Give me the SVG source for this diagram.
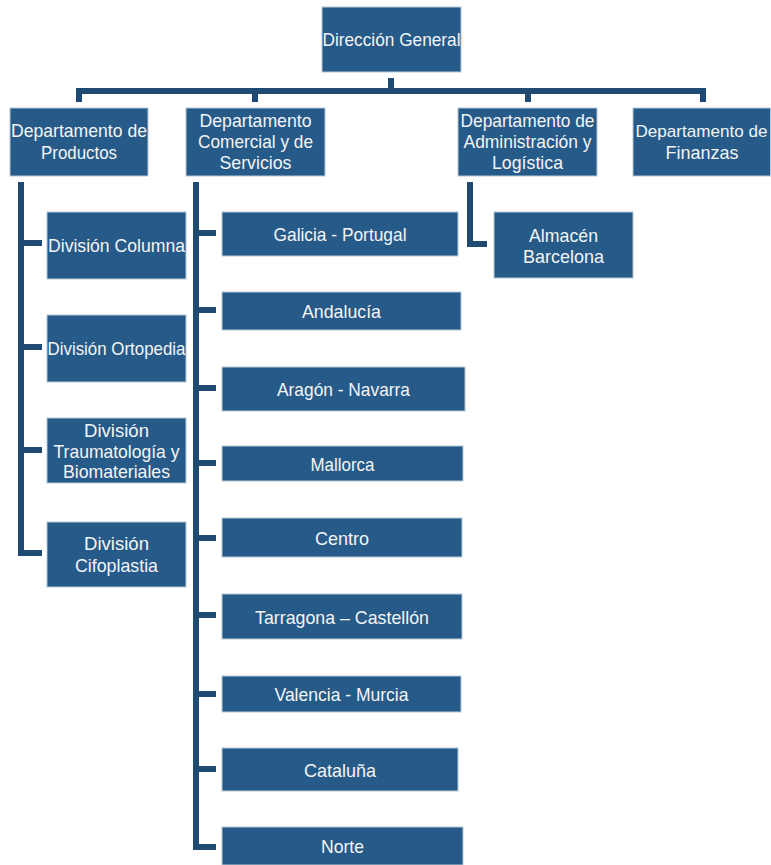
<svg xmlns="http://www.w3.org/2000/svg" width="771" height="865" viewBox="0 0 771 865">
<style>
.box{fill:#265a88;stroke:#b8c8d8;stroke-width:1}
.t{font-family:"Liberation Sans Narrow","Liberation Sans",Arial,sans-serif;font-size:19px;fill:#f4f4f4;text-anchor:middle}
.s{font-size:17px}
.c{fill:none;stroke:#1f4a72;stroke-width:6;stroke-linejoin:miter}
</style>
<rect width="771" height="865" fill="#ffffff"/>
<g id="connectors" class="c">
<path d="M391,78 V91 M79,102 V91 H703 V102 M255,91 V102 M528,91 V102"/>
<path d="M21,182 V553 H42 M21,243 H42 M21,347 H42 M21,450 H42"/>
<path d="M196,182 V847 H216 M196,233 H216 M196,310 H216 M196,388 H216 M196,463 H216 M196,538 H216 M196,615 H216 M196,694 H216 M196,769 H216"/>
<path d="M470,182 V244 H487"/>
</g>
<g id="n-direccion"><rect class="box" x="322" y="7" width="139" height="65"/><text class="t" x="391.5" y="45.5" textLength="138" lengthAdjust="spacingAndGlyphs">Dirección General</text></g>
<g id="n-productos"><rect class="box" x="10" y="108" width="138" height="68"/><text class="t" x="79" y="137" textLength="136" lengthAdjust="spacingAndGlyphs">Departamento de</text><text class="t" x="79" y="159" textLength="76" lengthAdjust="spacingAndGlyphs">Productos</text></g>
<g id="n-comercial"><rect class="box" x="186" y="108" width="139" height="68"/><text class="t" x="255.5" y="127" textLength="112" lengthAdjust="spacingAndGlyphs">Departamento</text><text class="t" x="255.5" y="148" textLength="115" lengthAdjust="spacingAndGlyphs">Comercial y de</text><text class="t" x="255.5" y="169" textLength="72" lengthAdjust="spacingAndGlyphs">Servicios</text></g>
<g id="n-administracion"><rect class="box" x="458" y="108" width="139" height="68"/><text class="t" x="527.5" y="127" textLength="134" lengthAdjust="spacingAndGlyphs">Departamento de</text><text class="t" x="527.5" y="148" textLength="128" lengthAdjust="spacingAndGlyphs">Administración y</text><text class="t" x="527.5" y="169" textLength="71" lengthAdjust="spacingAndGlyphs">Logística</text></g>
<g id="n-finanzas"><rect class="box" x="633" y="108" width="137.5" height="68"/><text class="t s" x="701.5" y="137" textLength="132" lengthAdjust="spacingAndGlyphs">Departamento de</text><text class="t" x="702" y="159" textLength="73" lengthAdjust="spacingAndGlyphs">Finanzas</text></g>
<g id="n-columna"><rect class="box" x="47" y="212" width="139" height="67"/><text class="t" x="116.5" y="252" textLength="137" lengthAdjust="spacingAndGlyphs">División Columna</text></g>
<g id="n-ortopedia"><rect class="box" x="47" y="315" width="139" height="67"/><text class="t" x="116.5" y="355" textLength="138" lengthAdjust="spacingAndGlyphs">División Ortopedia</text></g>
<g id="n-trauma"><rect class="box" x="47" y="418" width="139" height="65"/><text class="t" x="116.5" y="437" textLength="65" lengthAdjust="spacingAndGlyphs">División</text><text class="t" x="116.5" y="458" textLength="126" lengthAdjust="spacingAndGlyphs">Traumatología y</text><text class="t" x="116.5" y="478" textLength="107" lengthAdjust="spacingAndGlyphs">Biomateriales</text></g>
<g id="n-cifoplastia"><rect class="box" x="47" y="522" width="139" height="65"/><text class="t" x="116.5" y="550" textLength="65" lengthAdjust="spacingAndGlyphs">División</text><text class="t" x="116.5" y="572" textLength="83" lengthAdjust="spacingAndGlyphs">Cifoplastia</text></g>
<g id="n-almacen"><rect class="box" x="494" y="212" width="139" height="66"/><text class="t" x="563.5" y="242" textLength="69" lengthAdjust="spacingAndGlyphs">Almacén</text><text class="t" x="563.5" y="263" textLength="81" lengthAdjust="spacingAndGlyphs">Barcelona</text></g>
<g id="n-galicia"><rect class="box" x="222" y="212" width="236" height="44"/><text class="t" x="340" y="240.5" textLength="133" lengthAdjust="spacingAndGlyphs">Galicia - Portugal</text></g>
<g id="n-andalucia"><rect class="box" x="222" y="292" width="239" height="38"/><text class="t" x="341.5" y="317.5" textLength="79" lengthAdjust="spacingAndGlyphs">Andalucía</text></g>
<g id="n-aragon"><rect class="box" x="222" y="367" width="243" height="44"/><text class="t" x="343.5" y="395.5" textLength="133" lengthAdjust="spacingAndGlyphs">Aragón - Navarra</text></g>
<g id="n-mallorca"><rect class="box" x="222" y="446" width="241" height="35"/><text class="t" x="342.5" y="470.5" textLength="64" lengthAdjust="spacingAndGlyphs">Mallorca</text></g>
<g id="n-centro"><rect class="box" x="222" y="518" width="240" height="39"/><text class="t" x="342" y="544.5" textLength="54" lengthAdjust="spacingAndGlyphs">Centro</text></g>
<g id="n-tarragona"><rect class="box" x="222" y="594" width="240" height="45"/><text class="t" x="342" y="623.5" textLength="174" lengthAdjust="spacingAndGlyphs">Tarragona – Castellón</text></g>
<g id="n-valencia"><rect class="box" x="222" y="676" width="239" height="36"/><text class="t" x="341.5" y="700.5" textLength="134" lengthAdjust="spacingAndGlyphs">Valencia - Murcia</text></g>
<g id="n-cataluna"><rect class="box" x="222" y="748" width="236" height="43"/><text class="t" x="340" y="776.5" textLength="72" lengthAdjust="spacingAndGlyphs">Cataluña</text></g>
<g id="n-norte"><rect class="box" x="222" y="827" width="241" height="38"/><text class="t" x="342.5" y="852.5" textLength="43" lengthAdjust="spacingAndGlyphs">Norte</text></g>
</svg>
